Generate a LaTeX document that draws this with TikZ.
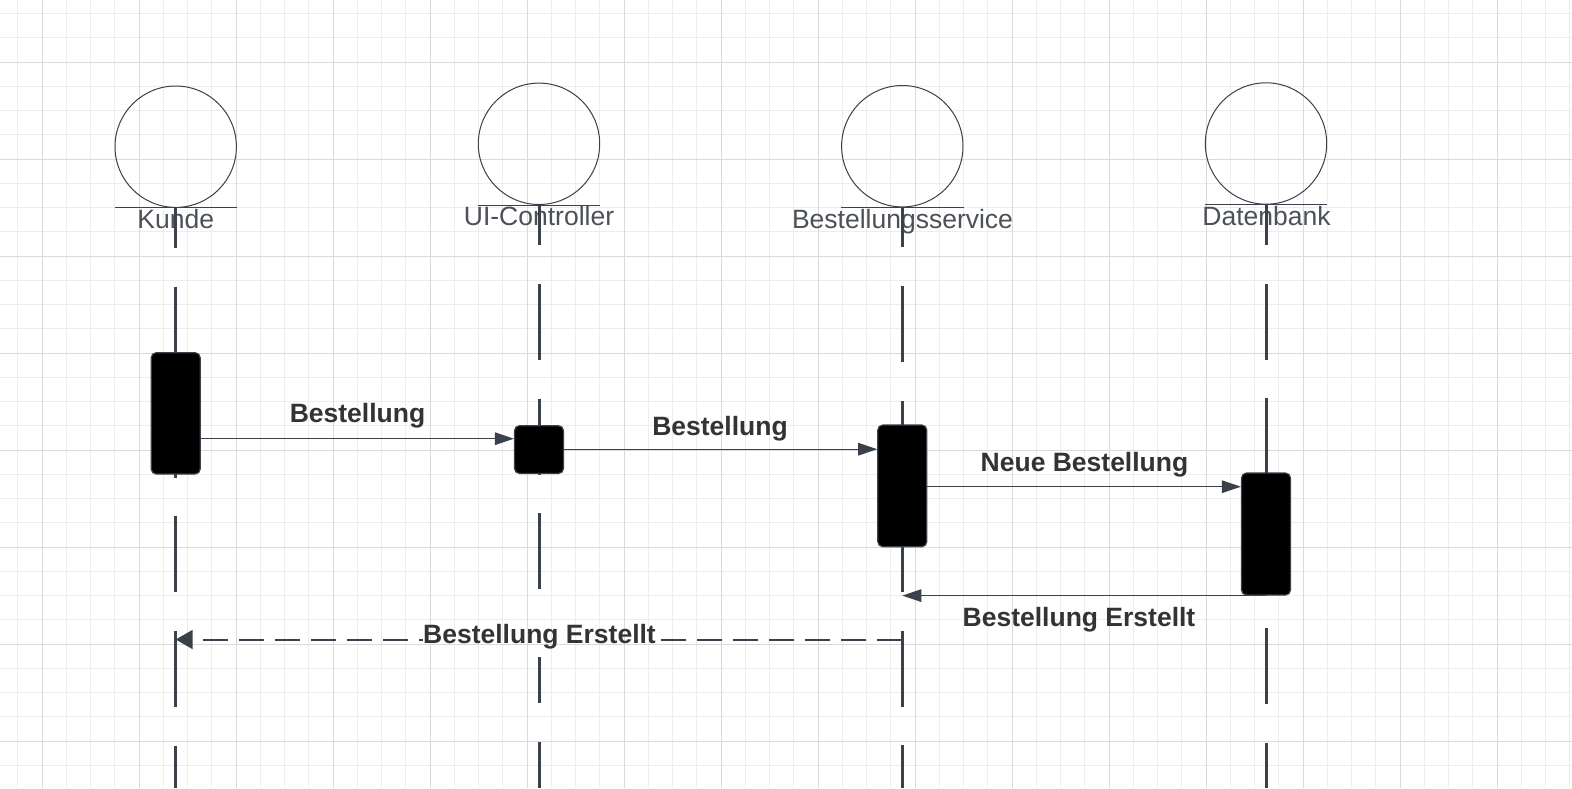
\documentclass[tikz,border=0pt]{standalone}
\usepackage{fontspec}
\setmainfont{Liberation Sans}
\usetikzlibrary{arrows.meta}
\definecolor{gridminor}{HTML}{EDEDED}
\definecolor{gridmajor}{HTML}{DADADA}
\definecolor{ink}{HTML}{3A414A}
\definecolor{actortext}{HTML}{4C5157}
\definecolor{msgtext}{HTML}{333333}
\tikzset{
  actorcirc/.style={circle, draw=ink, line width=1pt, minimum size=121.4pt, inner sep=0pt},
  actorlbl/.style={font=\fontsize{26.5}{30}\selectfont, text=actortext, inner sep=0pt, anchor=base},
  lifeline/.style={draw=ink, line width=3pt, dash pattern=on 76pt off 38.8pt, dash phase=36pt},
  lifelineseg/.style={draw=ink, line width=3pt},
  actbox/.style={rectangle, rounded corners=5pt, fill=black, draw=ink, line width=1.2pt, minimum width=49pt, inner sep=0pt},
  msg/.style={draw=ink, line width=1.3pt, -{Triangle[length=19pt,width=12.5pt]}},
  retmsg/.style={draw=ink, line width=2pt, dash pattern=on 25pt off 11pt},
  msglbl/.style={font=\bfseries\fontsize{26.5}{30}\selectfont, text=msgtext, inner sep=0pt, anchor=base}
}
\begin{document}
\begin{tikzpicture}[x=1pt,y=-1pt]
\useasboundingbox (0,0) rectangle (1572,788);
\fill[white] (0,0) rectangle (1572,788);
% grid
\foreach \i in {0,...,64} { \draw[gridminor,line width=1pt] ({17.75+24.25*\i},0) -- ({17.75+24.25*\i},788); }
\foreach \i in {0,...,31} { \draw[gridminor,line width=1pt] (0,{13.5+24.25*\i}) -- (1572,{13.5+24.25*\i}); }
\foreach \i in {0,...,15} { \draw[gridmajor,line width=1pt] ({42+97*\i},0) -- ({42+97*\i},788); }
\foreach \i in {0,...,7} { \draw[gridmajor,line width=1pt] (0,{62+97*\i}) -- (1572,{62+97*\i}); }

% actors
\node[actorcirc] (kunde) at (175.7,146.7) {};
\node[actorcirc] (ui) at (539,143.8) {};
\node[actorcirc] (svc) at (902.3,146.2) {};
\node[actorcirc] (db) at (1266,143.5) {};
\foreach \a in {kunde,ui,svc,db} { \draw[ink,line width=1pt] (\a.south -| \a.west) -- (\a.south -| \a.east); }

\node[actorlbl] (kundelbl) at (175.7,228.3) {Kunde};
\node[actorlbl] (uilbl) at (539,225.3) {UI-Controller};
\node[actorlbl] (svclbl) at (902.5,228.3) {Bestellungsservice};
\node[actorlbl] (dblbl) at (1266.5,225.2) {Datenbank};

% lifeline end points
\coordinate (kend) at (175.7,788);
\coordinate (svcend) at (902.3,788);
\coordinate (dbend) at (1266,788);
\coordinate (uibreak) at (539,626);
\coordinate (uires) at (539,657);
\coordinate (uidashend) at (539,703.2);
\coordinate (uinext) at (539,742);
\coordinate (uiend) at (539,788);

\draw[lifeline] (kunde.south) -- (kend);
\draw[lifeline] (svc.south) -- (svcend);
\draw[lifeline] (db.south) -- (dbend);
\draw[lifeline] (ui.south) -- (uibreak);
\draw[lifelineseg] (uires) -- (uidashend);
\draw[lifelineseg] (uinext) -- (uiend);

% activations
\node[actbox, minimum height=121.3pt] (kact) at (175.7,413.35) {};
\node[actbox, minimum height=47.8pt] (uiact) at (539,449.6) {};
\node[actbox, minimum height=121.7pt] (svcact) at (902.3,485.85) {};
\node[actbox, minimum height=122pt] (dbact) at (1266,534) {};

% message levels
\coordinate (y1) at (0,438.7);
\coordinate (y2) at (0,449.2);
\coordinate (y3) at (0,486.7);
\coordinate (y5) at (0,639.5);

\draw[msg] (kact.east |- y1) -- (uiact.west |- y1);
\draw[msg] (uiact.east |- y2) -- (svcact.west |- y2);
\draw[msg] (svcact.east |- y3) -- (dbact.west |- y3);
\draw[msg] (dbact.south) -- (svc.south |- dbact.south);

% labels
\node[msglbl] (l1) at (357.5,422.7) {Bestellung};
\node[msglbl] (l2) at (720,435) {Bestellung};
\node[msglbl] (l3) at (1084.5,471.7) {Neue Bestellung};
\node[msglbl] (l4) at (1079,626.7) {Bestellung Erstellt};
\node[msglbl] (l5) at (539.5,643) {Bestellung Erstellt};

% dashed return
\draw[retmsg] (svc.south |- y5) -- (l5.east |- y5);
\draw[retmsg, dash phase=25pt, {Triangle[length=17pt,width=19pt]}-] (kunde.south |- y5) -- (l5.west |- y5);
\end{tikzpicture}
\end{document}
